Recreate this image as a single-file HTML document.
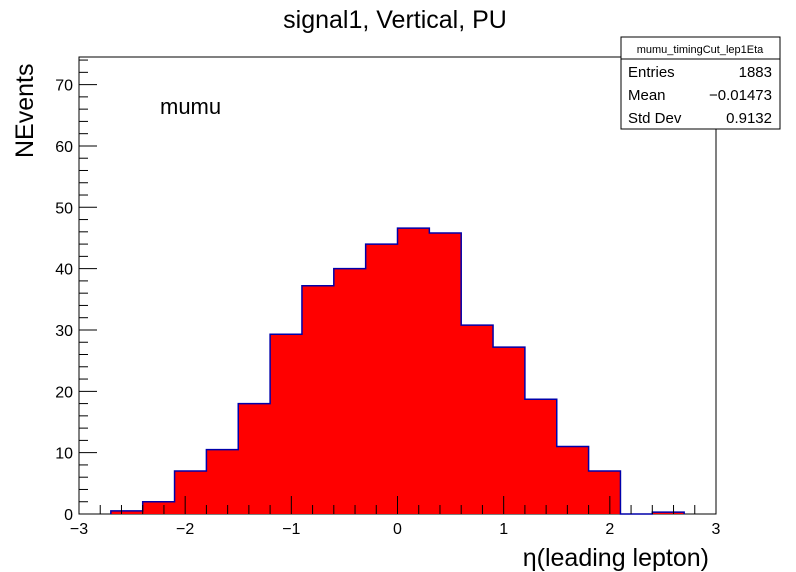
<!DOCTYPE html>
<html><head><meta charset="utf-8"><style>
html,body{margin:0;padding:0;background:#fff;}
svg{display:block;font-family:"Liberation Sans",sans-serif;}
</style></head><body>
<svg id="chart" width="796" height="572">
<text x="395" y="28" font-size="25" text-anchor="middle">signal1, Vertical, PU</text>
<rect x="79" y="57" width="637" height="457" fill="none" stroke="#000" stroke-width="1"/>
<g id="bars"></g>
<g id="axes"></g>
<text x="160" y="114" font-size="22">mumu</text>
<text x="709" y="566" font-size="25" text-anchor="end">η(leading lepton)</text>
<text transform="translate(33,158) rotate(-90)" font-size="25" text-anchor="start">NEvents</text>
<g>
<rect x="621" y="37" width="159" height="92" fill="#fff" stroke="#000"/>
<line x1="621" y1="59" x2="780" y2="59" stroke="#000"/>
<text x="700" y="53" font-size="11" text-anchor="middle">mumu_timingCut_lep1Eta</text>
<text x="628" y="77" font-size="15">Entries</text>
<text x="772" y="77" font-size="15" text-anchor="end">1883</text>
<text x="628" y="100" font-size="15">Mean</text>
<text x="772" y="100" font-size="15" text-anchor="end">−0.01473</text>
<text x="628" y="123" font-size="15">Std Dev</text>
<text x="772" y="123" font-size="15" text-anchor="end">0.9132</text>
</g>
</svg>
<script>
const binEdgesLow = [-2.7,-2.4,-2.1,-1.8,-1.5,-1.2,-0.9,-0.6,-0.3,0,0.3,0.6,0.9,1.2,1.5,1.8,2.1,2.4];
const binCounts = [0.5,2,7,10.5,18,29.3,37.2,40,44,46.6,45.8,30.8,27.2,18.7,11,7,0,0.3];
const binWidth = 0.3;
const xTickLabels = [-3,-2,-1,0,1,2,3];
const yTickLabels = [0,10,20,30,40,50,60,70];
const NS="http://www.w3.org/2000/svg";
const X0=79,X1=716,Y0=514,Y1=57,xmin=-3,xmax=3,ymin=0,ymax=74.5;
function xs(v){return X0+(v-xmin)/(xmax-xmin)*(X1-X0);}
function ys(v){return Y0-(v-ymin)/(ymax-ymin)*(Y0-Y1);}
function mk(tag,attrs,parent){const e=document.createElementNS(NS,tag);for(const k in attrs)e.setAttribute(k,attrs[k]);parent.appendChild(e);return e;}
const bars=document.getElementById('bars');
let d='M'+xs(binEdgesLow[0])+','+ys(0);
binEdgesLow.forEach((lo,i)=>{
  d+=' L'+xs(lo)+','+ys(binCounts[i])+' L'+xs(lo+binWidth)+','+ys(binCounts[i]);
});
d+=' L'+xs(binEdgesLow[binEdgesLow.length-1]+binWidth)+','+ys(0);
const fill=mk('path',{d:d+' Z',fill:'#ff0000',stroke:'none'},bars);


const outline=mk('path',{d:d,fill:'none',stroke:'#0000aa','stroke-width':1.5},bars);


const ax=document.getElementById('axes');
for(let k=0;k<=30;k++){const v=-3+k*0.2;const maj=Math.abs(v-Math.round(v))<1e-6;const half=Math.abs(v*2-Math.round(v*2))<1e-6;
  mk('line',{x1:xs(v),x2:xs(v),y1:Y0,y2:Y0-(maj?18:half?13:9),stroke:'#000'},ax);}
xTickLabels.forEach(v=>{const t=mk('text',{x:xs(v),y:Y0+20,'font-size':16,'text-anchor':'middle'},ax);t.textContent=v<0?'−'+(-v):String(v);
  
  });
for(let k=0;k<=37;k++){const v=k*2;const maj=v%10===0;const half=v%5===0;
  mk('line',{x1:X0,x2:X0+(maj?18:half?13:9),y1:ys(v),y2:ys(v),stroke:'#000'},ax);}
yTickLabels.forEach(v=>{const t=mk('text',{x:X0-6,y:ys(v)+6,'font-size':16,'text-anchor':'end'},ax);t.textContent=String(v);
  
  });
</script>
</body></html>
